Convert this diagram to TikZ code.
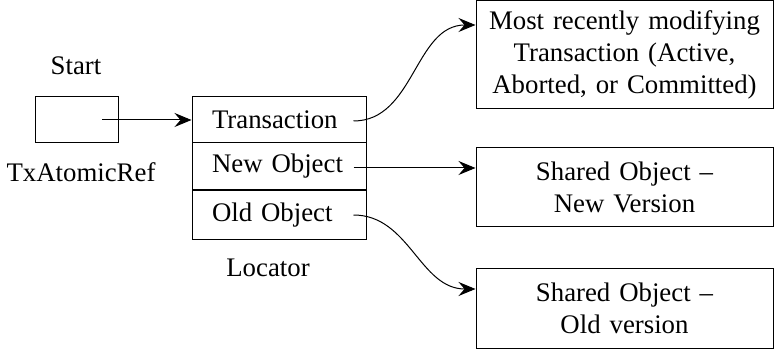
\documentclass[tikz,border=0pt]{standalone}
\usepackage{fontspec}
\setmainfont{Liberation Serif}
\usepackage{tikz}
\usetikzlibrary{arrows.meta}

\tikzset{
	cell/.style={draw,line width=0.5pt,text width=67pt,inner xsep=10pt,inner ysep=0pt,align=left,minimum height=#1},
	target/.style={draw,line width=0.5pt,text width=140pt,align=center,minimum width=148.5pt,minimum height=#1,inner sep=0pt},
	link/.style={line width=0.5pt,-{Stealth[length=8.5pt,width=7pt,inset=3pt]}}
}

\begin{document}
\begin{tikzpicture}[x=0.5pt,y=-0.5pt,font=\fontsize{13.4}{16}\selectfont]
\useasboundingbox (0,0) rectangle (775,351);
%pointeur de depart
\node[draw,line width=0.5pt,minimum width=41.5pt,minimum height=23pt,inner sep=0pt] (S) at (76.5,120) {};
\node (St) at (76,66) {Start};
\node (Tx) at (81,172) {TxAtomicRef};
\coordinate (Sp) at (102,120);

%le locator
\node[cell=23pt] (Tr) at (279,120) {Transaction};
\node[cell=23.5pt] (No) at (279,166.5) {New Object};
\node[cell=24.5pt] (Oo) at (279,215) {Old Object};
\node (L) at (268,268) {Locator};

%objets pointes
\node[target=54pt] (MT) at (624.5,54.5) {Most recently modifying\\Transaction (Active,\\Aborted, or Committed)};
\node[target=39.5pt] (SN) at (624.5,187.5) {Shared Object --\\New Version};
\node[target=40pt] (SO) at (624.5,308.5) {Shared Object --\\Old version};

\draw[link] (Sp) -- (Tr.west);
\draw[link] ([xshift=-6.5pt,yshift=-0.5pt]Tr.east) to[out=0,in=180] ([yshift=14.75pt]MT.west);
\draw[link] ([xshift=-6.5pt,yshift=-0.75pt]No.east) -- ([yshift=-0.75pt]No.east -| SN.west);
\draw[link] ([xshift=-6.5pt]Oo.east) to[out=0,in=180] ([yshift=9.75pt]SO.west);
\end{tikzpicture}
\end{document}
